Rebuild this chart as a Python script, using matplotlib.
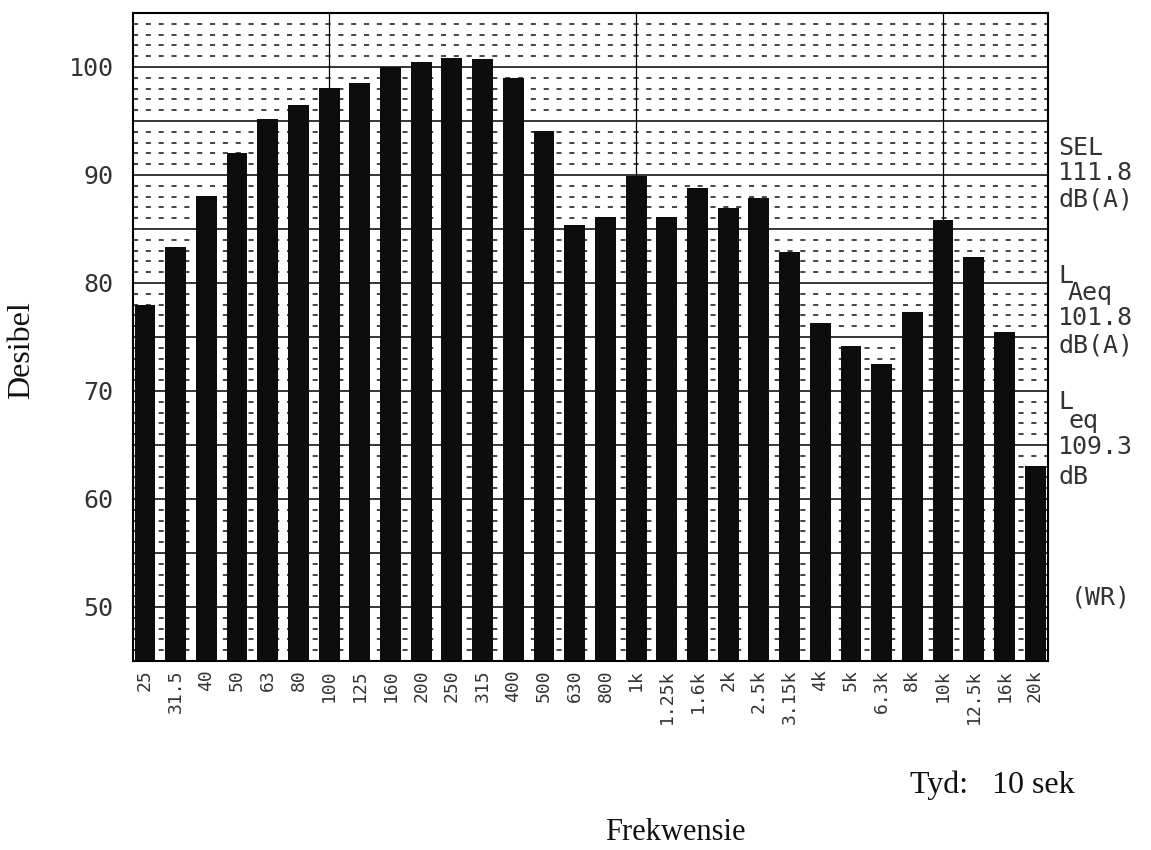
import matplotlib.pyplot as plt
import numpy as np


# third-octave band centre frequencies and measured levels (dB)
FREQ_LABELS = [
    "25", "31.5", "40", "50", "63", "80", "100", "125", "160", "200",
    "250", "315", "400", "500", "630", "800", "1k", "1.25k", "1.6k", "2k",
    "2.5k", "3.15k", "4k", "5k", "6.3k", "8k", "10k", "12.5k", "16k", "20k",
]
LEVELS_DB = [
    78.0, 83.3, 88.1, 92.0, 95.2, 96.5, 98.1, 98.5, 100.0, 100.5,
    100.8, 100.7, 99.0, 94.1, 85.4, 86.1, 89.9, 86.1, 88.8, 86.9,
    87.9, 82.9, 76.3, 74.2, 72.5, 77.3, 85.8, 82.4, 75.5, 63.1,
]
DECADE_BANDS = ["100", "1k", "10k"]
Y_TICKS = [50, 60, 70, 80, 90, 100]
Y_MIN, Y_MAX = 45, 105

SEL_VALUE = "111.8"
LAEQ_VALUE = "101.8"
LEQ_VALUE = "109.3"
WEIGHTING = "(WR)"

W, H = 1151, 850
MONO = "DejaVu Sans Mono"
SERIF = "Liberation Serif"
INK = "#333333"


def px(x, y):
    """Pixel position (from top-left) to figure fraction."""
    return x / W, 1 - y / H


def main() -> None:
    fig = plt.figure(figsize=(W / 100, H / 100), dpi=100)
    left, top = px(133, 13)
    right, bottom = px(1048, 661)
    ax = fig.add_axes([left, bottom, right - left, top - bottom])

    x = np.arange(len(FREQ_LABELS))

    # 1 dB dashed rulings, 5 dB solid rulings
    for level in range(Y_MIN + 1, Y_MAX):
        if level % 5 == 0:
            ax.axhline(level, color="black", lw=1.1, zorder=1)
        else:
            ax.axhline(level, color="#444444", lw=1.4,
                       linestyle=(0, (2.6, 4.0)), zorder=1)

    for band in DECADE_BANDS:
        ax.axvline(FREQ_LABELS.index(band), color="black", lw=0.9, zorder=1)

    levels = np.array(LEVELS_DB)
    ax.bar(x, levels - Y_MIN, bottom=Y_MIN, width=0.68,
           color="#0d0d0d", zorder=2)

    ax.set_xlim(-0.39, len(FREQ_LABELS) - 1 + 0.42)
    ax.set_ylim(Y_MIN, Y_MAX)

    ax.set_xticks(x)
    ax.set_xticklabels(FREQ_LABELS, rotation=90, family=MONO,
                       fontsize=13, color=INK)
    ax.set_yticks(Y_TICKS)
    ax.set_yticklabels([str(v) for v in Y_TICKS], family=MONO,
                       fontsize=18, color=INK)
    ax.tick_params(axis="x", length=0, pad=6)
    ax.tick_params(axis="y", length=0, pad=14)

    for spine in ax.spines.values():
        spine.set_linewidth(1.5)
        spine.set_color("black")
        spine.set_zorder(3)

    # summary values printed at the right of the plot
    note = dict(family=MONO, fontsize=18, color=INK, va="center", ha="left")
    fig.text(*px(1058, 148), "SEL", **note)
    fig.text(*px(1058, 173), SEL_VALUE, **note)
    fig.text(*px(1058, 199), "dB(A)", **note)
    fig.text(*px(1058, 276), "L", **note)
    fig.text(*px(1068, 293), "Aeq", **note)
    fig.text(*px(1058, 318), LAEQ_VALUE, **note)
    fig.text(*px(1058, 345), "dB(A)", **note)
    fig.text(*px(1058, 402), "L", **note)
    fig.text(*px(1068, 421), "eq", **note)
    fig.text(*px(1058, 447), LEQ_VALUE, **note)
    fig.text(*px(1058, 477), "dB", **note)
    fig.text(*px(1071, 597), WEIGHTING, **note)

    fig.text(*px(22, 350), "Desibel", family=SERIF, fontsize=23,
             rotation=90, ha="center", va="center", color="#111111")
    fig.text(*px(675, 832), "Frekwensie", family=SERIF, fontsize=22,
             ha="center", va="center", color="#111111")
    fig.text(*px(910, 785), "Tyd:   10 sek", family=SERIF, fontsize=23,
             ha="left", va="center", color="#111111")

    fig.savefig("out.png", dpi=100)
    plt.close(fig)


if __name__ == "__main__":
    main()
